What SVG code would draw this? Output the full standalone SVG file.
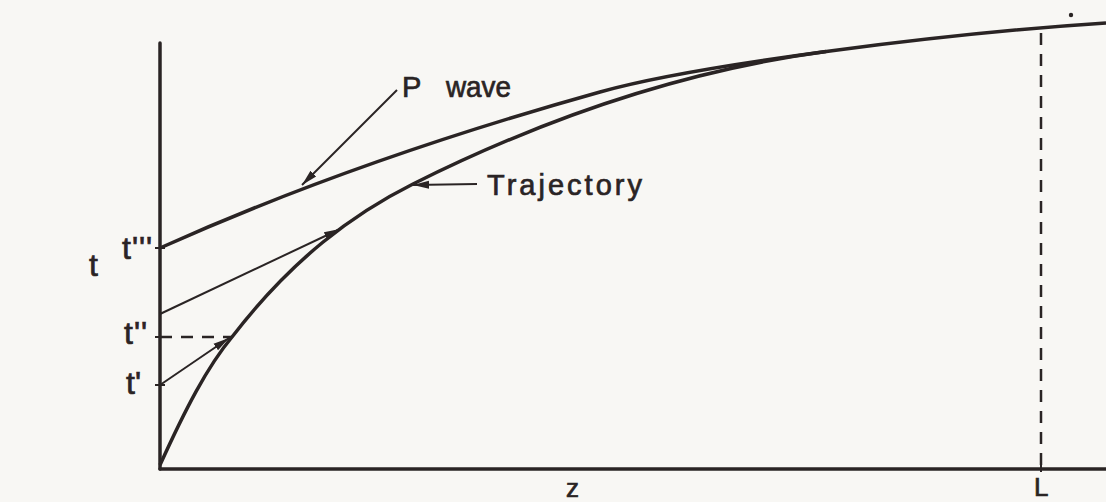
<svg xmlns="http://www.w3.org/2000/svg" width="1106" height="502" viewBox="0 0 1106 502">
<defs>
<style>
.ax{stroke:#2a2424;stroke-width:3.5;fill:none;stroke-linecap:round}
.cv{stroke:#2a2424;stroke-width:3.5;fill:none}
.th{stroke:#2a2424;stroke-width:2;fill:none}
.ds{stroke:#2a2424;stroke-width:2.5;fill:none;stroke-dasharray:12 9}
.lb{font-family:"Liberation Sans",Arial,sans-serif;font-size:29px;fill:#2a2424;stroke:#2a2424;stroke-width:0.7}
.tl{font-size:32px}
.sm{font-size:26px}
</style>
<marker id="ah" markerUnits="userSpaceOnUse" markerWidth="18" markerHeight="10" refX="16" refY="5" orient="auto">
<path d="M0,1 L16,5 L0,9 Z" fill="#2a2424"/>
</marker>
</defs>
<rect width="1106" height="502" fill="#f8f7f4"/>
<g id="axes">
<line class="ax" x1="160" y1="43" x2="160" y2="469"/>
<line class="ax" x1="160" y1="469" x2="1106" y2="469"/>
<line class="ds" x1="1041" y1="33" x2="1041" y2="469"/>
<line class="th" x1="155" y1="248" x2="165" y2="248"/>
<line class="th" x1="155" y1="337" x2="165" y2="337"/>
<line class="th" x1="155" y1="385" x2="165" y2="385"/>
<line class="th" x1="1041" y1="464" x2="1041" y2="472"/>
<circle cx="1071" cy="15" r="2.2" fill="#2a2424"/>
</g>
<g id="p-wave">
<path class="cv" d="M160,248 C307,182 453,133 600,92 C700,64 950,33 1106,23"/>
</g>
<g id="trajectory">
<path class="cv" d="M160,465 C185,410 207,367 232,337 C292,259 353,214 413,184 C551,115 688,70 826,51.5"/>
</g>
<g id="connectors">
<line class="th" x1="397" y1="90" x2="302" y2="185" marker-end="url(#ah)"/>
<line class="th" x1="477" y1="184" x2="413" y2="185" marker-end="url(#ah)"/>
<line class="th" x1="160" y1="314" x2="340" y2="229" marker-end="url(#ah)"/>
<line class="th" x1="160" y1="385" x2="229" y2="338" marker-end="url(#ah)"/>
<line class="ds" x1="160" y1="337" x2="232" y2="337" stroke-dasharray="10 7"/>
</g>
<g id="labels">
<text class="lb" x="402" y="97"><tspan>P </tspan><tspan x="446" textLength="65" lengthAdjust="spacingAndGlyphs">wave</tspan></text>
<text class="lb" x="487" y="195" textLength="155" lengthAdjust="spacing">Trajectory</text>
<text class="lb tl" x="89" y="276">t</text>
<text class="lb tl" x="122" y="259" letter-spacing="1">t'''</text>
<text class="lb tl" x="124" y="344" letter-spacing="1">t''</text>
<text class="lb tl" x="126" y="394">t'</text>
<text class="lb sm" x="566" y="497">z</text>
<text class="lb sm" x="1034" y="496">L</text>
</g>
</svg>
